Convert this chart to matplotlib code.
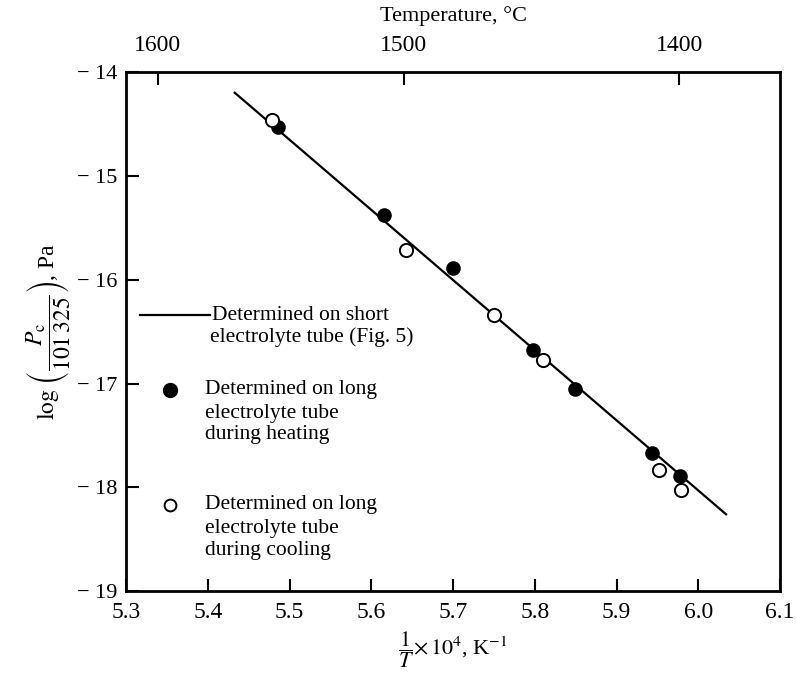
import numpy as np
import matplotlib
matplotlib.use("Agg")
import matplotlib.pyplot as plt

plt.rcParams['font.family'] = ['Liberation Serif', 'DejaVu Serif']
plt.rcParams['mathtext.fontset'] = 'stix'

# ---- data ----
# line: determined on short electrolyte tube (Fig. 5)
line_x = [5.433, 6.034]
line_y = [-14.195, -18.26]

# filled circles: long electrolyte tube, during heating
heat_x = [5.486, 5.616, 5.700, 5.798, 5.849, 5.943, 5.978]
heat_y = [-14.53, -15.37, -15.89, -16.68, -17.05, -17.67, -17.89]

# open circles: long electrolyte tube, during cooling
cool_x = [5.478, 5.643, 5.750, 5.810, 5.952, 5.979]
cool_y = [-14.46, -15.71, -16.34, -16.77, -17.83, -18.03]

x_ticks = [5.3, 5.4, 5.5, 5.6, 5.7, 5.8, 5.9, 6.0, 6.1]
x_ticklabels = ['5.3', '5.4', '5.5', '5.6', '5.7', '5.8', '5.9', '6.0', '6.1']
y_ticks = [-19, -18, -17, -16, -15, -14]
y_ticklabels = ['\u2212 19', '\u2212 18', '\u2212 17', '\u2212 16', '\u2212 15', '\u2212 14']
temp_ticks = [1600, 1500, 1400]


def celsius_to_inv(t):
    return 1e4 / (np.asarray(t, dtype=float) + 273.15)


def inv_to_celsius(x):
    return 1e4 / np.asarray(x, dtype=float) - 273.15


fig = plt.figure(figsize=(7.96, 6.82), dpi=100)
ax = fig.add_axes([0.1583, 0.1334, 0.8216, 0.7603])

ax.plot(line_x, line_y, color='black', linewidth=1.6)
ax.plot(heat_x, heat_y, 'o', color='black', markersize=9.5, zorder=3)
ax.plot(cool_x, cool_y, 'o', markerfacecolor='white', markeredgecolor='black',
        markeredgewidth=1.4, markersize=9.5, zorder=3)

ax.set_xlim(5.3, 6.1)
ax.set_ylim(-19, -14)
ax.set_xticks(x_ticks)
ax.set_xticklabels(x_ticklabels, fontsize=17)
ax.set_yticks(y_ticks)
ax.set_yticklabels(y_ticklabels, fontsize=16)
ax.tick_params(axis='both', direction='in', length=9, width=1.5, pad=8,
               top=False, right=False)
ax.tick_params(axis='y', pad=6)
for sp in ax.spines.values():
    sp.set_linewidth(2.0)

# top axis in degrees Celsius
sec = ax.secondary_xaxis('top', functions=(inv_to_celsius, celsius_to_inv))
sec.set_xticks(temp_ticks)
sec.set_xticklabels([str(t) for t in temp_ticks], fontsize=17)
sec.tick_params(direction='in', length=9, width=1.5, pad=12)
sec.set_xlabel('Temperature, \u00b0C', fontsize=16, labelpad=10)

ax.set_xlabel(r'$\dfrac{1}{T}$$\times\,10^4$, K$^{-1}$', fontsize=16, labelpad=4)
ax.set_ylabel(r'$\log\,\left(\dfrac{P_{\mathrm{c}}}{101\,325}\right)$, Pa',
              fontsize=17, labelpad=4)

# hand-drawn style key inside the axes
tf = ax.transAxes
fs = 15.5
ax.plot([0.021, 0.128], [0.532, 0.532], color='black', linewidth=1.6,
        transform=tf, clip_on=False)
ax.text(0.1315, 0.532, 'Determined on short', transform=tf, fontsize=fs, va='center')
ax.text(0.128, 0.490, 'electrolyte tube (Fig. 5)', transform=tf, fontsize=fs, va='center')

ax.plot([0.067], [0.388], 'o', color='black', markersize=10, transform=tf)
for yy, txt in zip([0.388, 0.343, 0.301],
                   ['Determined on long', 'electrolyte tube', 'during heating']):
    ax.text(0.121, yy, txt, transform=tf, fontsize=fs, va='center')

ax.plot([0.067], [0.166], 'o', markerfacecolor='white', markeredgecolor='black',
        markeredgewidth=1.4, markersize=8.5, transform=tf)
for yy, txt in zip([0.166, 0.1215, 0.079],
                   ['Determined on long', 'electrolyte tube', 'during cooling']):
    ax.text(0.121, yy, txt, transform=tf, fontsize=fs, va='center')

fig.savefig('out.png', dpi=100)
